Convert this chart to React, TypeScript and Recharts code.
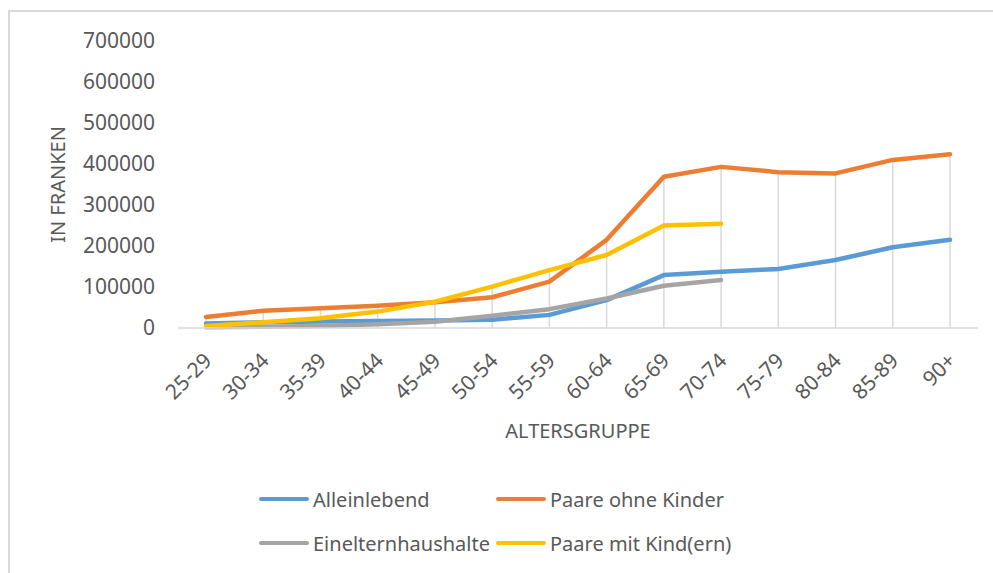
import {
  LineChart,
  Line,
  XAxis,
  YAxis,
  Label,
  Legend,
  ReferenceLine,
} from "recharts";

const ageGroups = [
  "25-29", "30-34", "35-39", "40-44", "45-49", "50-54", "55-59",
  "60-64", "65-69", "70-74", "75-79", "80-84", "85-89", "90+",
];

const alleinlebend = [
  11000, 14000, 16000, 17000, 18000, 20000, 32000,
  68000, 129000, 137000, 144000, 166000, 197000, 215000,
];
const paareOhneKinder = [
  27000, 42000, 48000, 54000, 63000, 75000, 113000,
  215000, 369000, 393000, 380000, 377000, 410000, 424000,
];
const einelternhaushalte = [
  2000, 3000, 5000, 9000, 15000, 30000, 46000,
  72000, 103000, 117000, null, null, null, null,
];
const paareMitKindern = [
  5000, 14000, 24000, 40000, 64000, 101000, 141000,
  178000, 250000, 254000, null, null, null, null,
];

const yTicks = [0, 100000, 200000, 300000, 400000, 500000, 600000, 700000];

const series = [
  { key: "alleinlebend", name: "Alleinlebend", color: "#5B9BD5" },
  { key: "paareOhneKinder", name: "Paare ohne Kinder", color: "#ED7D31" },
  { key: "einelternhaushalte", name: "Einelternhaushalte", color: "#A5A5A5" },
  { key: "paareMitKindern", name: "Paare mit Kind(ern)", color: "#FFC000" },
];

const data = ageGroups.map((group, i) => ({
  group,
  alleinlebend: alleinlebend[i],
  paareOhneKinder: paareOhneKinder[i],
  einelternhaushalte: einelternhaushalte[i],
  paareMitKindern: paareMitKindern[i],
}));

// highest value per age group, for the drop lines
const dropTops = data.map((d) =>
  Math.max(
    ...[d.alleinlebend, d.paareOhneKinder, d.einelternhaushalte, d.paareMitKindern].filter(
      (v): v is number => v != null
    )
  )
);

const textColor = "#595959";

const AgeTick = (props: any) => {
  const { x, y, payload } = props;
  const ax = x + 7;
  const ay = y + 34;
  return (
    <text
      x={ax}
      y={ay}
      textAnchor="end"
      fill={textColor}
      fontSize={21}
      transform={`rotate(-45, ${ax}, ${ay})`}
    >
      {payload.value}
    </text>
  );
};

const LegendContent = () => (
  <div
    style={{
      display: "grid",
      gridTemplateColumns: "237px 237px",
      paddingLeft: 249,
      fontSize: 20,
      color: textColor,
    }}
  >
    {series.map((s) => (
      <div key={s.key} style={{ display: "flex", alignItems: "center", height: 44 }}>
        <span
          style={{
            display: "inline-block",
            width: 50,
            height: 4.5,
            borderRadius: 3,
            background: s.color,
            marginRight: 4,
          }}
        />
        <span>{s.name}</span>
      </div>
    ))}
  </div>
);

export default function App() {
  return (
    <div
      style={{
        position: "fixed",
        left: 8,
        top: 10,
        width: 1000,
        height: 600,
        borderTop: "2px solid #d9d9d9",
        borderLeft: "2px solid #d9d9d9",
        background: "#fff",
        fontFamily: "'Noto Sans', sans-serif",
      }}
    >
      <LineChart
        width={983}
        height={562}
        data={data}
        margin={{ top: 29, right: 15, left: 0, bottom: 126 }}
      >
        <XAxis
          dataKey="group"
          padding={{ left: 28, right: 28 }}
          axisLine={{ stroke: "#d9d9d9", strokeWidth: 1.5 }}
          tickLine={false}
          tickSize={0}
          tickMargin={0}
          interval={0}
          height={120}
          tick={<AgeTick />}
        >
          <Label
            content={(p: any) => {
              const vb = p.viewBox;
              return (
                <text
                  x={vb.x + vb.width / 2}
                  y={vb.y + 102}
                  textAnchor="middle"
                  dominantBaseline="central"
                  fill={textColor}
                  fontSize={20}
                >
                  ALTERSGRUPPE
                </text>
              );
            }}
          />
        </XAxis>
        <YAxis
          domain={[0, 700000]}
          ticks={yTicks}
          interval={0}
          axisLine={false}
          tickLine={false}
          tickSize={0}
          tickMargin={23}
          width={168}
          tick={{ fill: textColor, fontSize: 21 }}
        >
          <Label
            content={(p: any) => {
              const vb = p.viewBox;
              const lx = vb.x + 47;
              const ly = vb.y + vb.height / 2;
              return (
                <text
                  x={lx}
                  y={ly}
                  textAnchor="middle"
                  dominantBaseline="central"
                  fill={textColor}
                  fontSize={20}
                  transform={`rotate(-90, ${lx}, ${ly})`}
                >
                  IN FRANKEN
                </text>
              );
            }}
          />
        </YAxis>
        {ageGroups.map((g, i) => (
          <ReferenceLine
            key={g}
            segment={[
              { x: g, y: 0 },
              { x: g, y: dropTops[i] },
            ]}
            stroke="#d9d9d9"
            strokeWidth={1.5}
          />
        ))}
        {series.map((s) => (
          <Line
            key={s.key}
            type="linear"
            dataKey={s.key}
            name={s.name}
            stroke={s.color}
            strokeWidth={4.5}
            strokeLinecap="round"
            strokeLinejoin="round"
            dot={false}
            activeDot={false}
            isAnimationActive={false}
          />
        ))}
        <Legend
          layout="horizontal"
          verticalAlign="middle"
          align="center"
          wrapperStyle={{ top: 465, left: 0, width: 983 }}
          content={<LegendContent />}
        />
      </LineChart>
    </div>
  );
}
